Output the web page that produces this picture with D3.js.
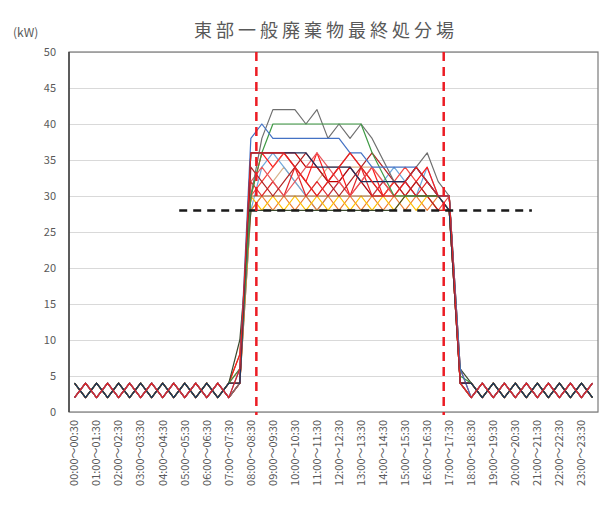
<!DOCTYPE html>
<html>
<head>
<meta charset="utf-8">
<script src="https://cdn.jsdelivr.net/npm/d3@7"></script>
<style>
  body { margin: 0; background: #fff; }
  text { font-family: "Noto Sans CJK JP", "Noto Sans", sans-serif; fill: #595959; }
</style>
</head>
<body>
<div id="chart"></div>
<script>
// half-hour slots
const slots = ["00:00～00:30","00:30～01:00","01:00～01:30","01:30～02:00","02:00～02:30","02:30～03:00",
    "03:00～03:30","03:30～04:00","04:00～04:30","04:30～05:00","05:00～05:30","05:30～06:00",
    "06:00～06:30","06:30～07:00","07:00～07:30","07:30～08:00","08:00～08:30","08:30～09:00",
    "09:00～09:30","09:30～10:00","10:00～10:30","10:30～11:00","11:00～11:30","11:30～12:00",
    "12:00～12:30","12:30～13:00","13:00～13:30","13:30～14:00","14:00～14:30","14:30～15:00",
    "15:00～15:30","15:30～16:00","16:00～16:30","16:30～17:00","17:00～17:30","17:30～18:00",
    "18:00～18:30","18:30～19:00","19:00～19:30","19:30～20:00","20:00～20:30","20:30～21:00",
    "21:00～21:30","21:30～22:00","22:00～22:30","22:30～23:00","23:00～23:30","23:30～00:00"];
const shownLabels = slots.filter(s => s.slice(3, 5) === "00");
const yTicks = [0, 5, 10, 15, 20, 25, 30, 35, 40, 45, 50];

// daily load profiles (kW)
const grayDay = [2,4,2,4,2,4,2,4,2,4,2,4,2,4, 2,4, 30,38,42,42,42,40,42,38,40,38,40,38,35,32,32,34,36,32, 30,4, 2,4,2,4,2,4,2,4,2,4,2,4];
const greenDay = [4,2,4,2,4,2,4,2,4,2,4,2,4,2, 4,6, 30,36,40,40,40,40,40,40,40,40,40,36,33,30,30,30,30,30, 28,5, 4,2,4,2,4,2,4,2,4,2,4,2];
const blueDay = [2,4,2,4,2,4,2,4,2,4,2,4,2,4, 2,6, 38,40,38,38,38,38,38,38,38,36,36,34,34,34,34,34,32,30, 30,6, 2,4,2,4,2,4,2,4,2,4,2,4];
const navyDay = [4,2,4,2,4,2,4,2,4,2,4,2,4,2, 4,4, 36,36,36,36,36,36,34,34,34,34,32,32,32,32,32,34,32,30, 28,4, 4,2,4,2,4,2,4,2,4,2,4,2];
const tanDay = [2,4,2,4,2,4,2,4,2,4,2,4,2,4, 2,4, 28,30,32,34,32,30,32,34,34,34,34,34,32,30,30,30,30,30, 28,4, 2,4,2,4,2,4,2,4,2,4,2,4];
const lightBlueDay = [2,4,2,4,2,4,2,4,2,4,2,4,2,4, 2,4, 28,34,36,34,32,30,28,30,32,34,32,30,32,34,32,30,34,30, 28,4, 2,4,2,4,2,4,2,4,2,4,2,4];
const orangeDay = [2,4,2,4,2,4,2,4,2,4,2,4,2,4, 2,4, 28,30,28,30,28,30,28,30,28,30,28,30,28,30,28,30,28,30, 28,4, 2,4,2,4,2,4,2,4,2,4,2,4];
const yellowDay = [4,2,4,2,4,2,4,2,4,2,4,2,4,2, 4,4, 30,28,30,28,30,28,30,28,30,28,30,28,30,28,30,28,30,28, 28,4, 4,2,4,2,4,2,4,2,4,2,4,2];
const brownDay = [4,2,4,2,4,2,4,2,4,2,4,2,4,2, 4,8, 30,30,30,30,30,30,30,30,30,30,30,30,30,30,30,30,30,30, 30,4, 4,2,4,2,4,2,4,2,4,2,4,2];
const oliveDay = [4,2,4,2,4,2,4,2,4,2,4,2,4,2, 4,10, 28,28,28,28,28,28,28,28,28,28,28,28,28,28,30,30,30,30, 30,6, 4,2,4,2,4,2,4,2,4,2,4,2];
const darkRedDay = [2,4,2,4,2,4,2,4,2,4,2,4,2,4, 2,4, 36,36,36,36,36,34,34,32,32,34,32,30,30,32,32,30,30,30, 30,4, 2,4,2,4,2,4,2,4,2,4,2,4];
const redDay = [4,2,4,2,4,2,4,2,4,2,4,2,4,2, 4,8, 30,36,34,36,34,32,36,32,34,30,32,34,30,32,30,32,34,30, 28,4, 4,2,4,2,4,2,4,2,4,2,4,2];
const red2Day = [2,4,2,4,2,4,2,4,2,4,2,4,2,4, 2,4, 32,30,32,30,34,30,32,30,32,30,34,30,32,30,32,30,32,30, 30,6, 2,4,2,4,2,4,2,4,2,4,2,4];
const red3Day = [4,2,4,2,4,2,4,2,4,2,4,2,4,2, 4,6, 30,32,34,36,34,32,30,32,34,36,34,32,30,32,34,32,30,28, 30,4, 4,2,4,2,4,2,4,2,4,2,4,2];
const pinkDay = [2,4,2,4,2,4,2,4,2,4,2,4,2,4, 2,4, 32,34,32,30,32,34,36,34,32,30,32,34,32,30,32,34,32,30, 28,4, 2,4,2,4,2,4,2,4,2,4,2,4];
const crimsonDay = [4,2,4,2,4,2,4,2,4,2,4,2,4,2, 4,4, 34,32,30,32,34,36,34,32,30,32,34,36,34,32,30,32,30,28, 28,4, 4,2,4,2,4,2,4,2,4,2,4,2];
const red4Day = [2,4,2,4,2,4,2,4,2,4,2,4,2,4, 2,6, 36,36,36,36,34,32,30,32,34,36,34,32,30,30,32,34,32,30, 30,4, 2,4,2,4,2,4,2,4,2,4,2,4];

const seriesList = [
    {values: tanDay, color: "#d9b48c"},
    {values: lightBlueDay, color: "#6fa8dc"},
    {values: orangeDay, color: "#ed7d31"},
    {values: yellowDay, color: "#ffc000"},
    {values: brownDay, color: "#a0622a"},
    {values: darkRedDay, color: "#c00000"},
    {values: redDay, color: "#ff1a1a"},
    {values: red2Day, color: "#e3262b"},
    {values: red3Day, color: "#f2453d"},
    {values: pinkDay, color: "#e8585d"},
    {values: crimsonDay, color: "#b22222"},
    {values: oliveDay, color: "#3b4a2e"},
    {values: grayDay, color: "#6f6f6f"},
    {values: greenDay, color: "#3f9a45"},
    {values: blueDay, color: "#4472c4"},
    {values: navyDay, color: "#1f2f5c"},
    {values: red4Day, color: "#e02424"}
];

const width = 605, height = 507;
const margin = {top: 52, right: 7, bottom: 95, left: 69};

const svg = d3.select("#chart").append("svg")
    .attr("width", width)
    .attr("height", height);

const x = d3.scaleBand()
    .domain(slots)
    .range([margin.left, width - margin.right]);
const y = d3.scaleLinear()
    .domain([0, 50])
    .range([height - margin.bottom, margin.top]);

//Gridlines and y labels
svg.append("g")
    .attr("transform", "translate(" + margin.left + ",0)")
    .call(d3.axisLeft(y).tickValues(yTicks).tickSize(-(width - margin.left - margin.right)).tickPadding(13))
    .call(g => g.select(".domain").remove())
    .call(g => g.selectAll(".tick line").attr("stroke", "#d9d9d9"))
    .call(g => g.selectAll(".tick text").style("font-size", "11px").attr("fill", "#595959"));

//Frame
svg.append("rect")
    .attr("x", margin.left)
    .attr("y", margin.top)
    .attr("width", width - margin.left - margin.right)
    .attr("height", height - margin.top - margin.bottom)
    .attr("fill", "none")
    .attr("stroke", "#7a7a7a")
    .attr("stroke-width", 1.2);
svg.append("line")
    .attr("x1", margin.left).attr("x2", margin.left)
    .attr("y1", margin.top).attr("y2", height - margin.bottom)
    .attr("stroke", "#404040")
    .attr("stroke-width", 1.5);

//X labels
svg.append("g")
    .attr("transform", "translate(0," + (height - margin.bottom) + ")")
    .call(d3.axisBottom(x).tickValues(shownLabels).tickSize(0))
    .call(g => g.select(".domain").remove())
    .call(g => g.selectAll(".tick text")
        .attr("transform", "rotate(-90)")
        .attr("text-anchor", "end")
        .attr("x", -8)
        .attr("y", 0)
        .attr("dy", "0.35em")
        .style("font-size", "11px")
        .attr("fill", "#595959"));

//Lines
const line = d3.line()
    .x((d, i) => x(slots[i]) + x.bandwidth() / 2)
    .y(d => y(d));

svg.append("g")
    .selectAll("path")
    .data(seriesList)
    .enter()
    .append("path")
    .attr("d", d => line(d.values))
    .attr("fill", "none")
    .attr("stroke", d => d.color)
    .attr("stroke-width", 1.2)
    .attr("stroke-linejoin", "round");

//Reference lines
svg.append("line")
    .attr("x1", x("05:00～05:30"))
    .attr("x2", x("21:00～21:30"))
    .attr("y1", y(28))
    .attr("y2", y(28))
    .attr("stroke", "#1a1a1a")
    .attr("stroke-width", 2.5)
    .attr("stroke-dasharray", "8,6");

["08:30～09:00", "17:00～17:30"].forEach(function (s) {
    svg.append("line")
        .attr("x1", x(s)).attr("x2", x(s))
        .attr("y1", margin.top)
        .attr("y2", height - margin.bottom + 3)
        .attr("stroke", "#ec1c24")
        .attr("stroke-width", 2.5)
        .attr("stroke-dasharray", "9,6");
});

//Title and unit
svg.append("text")
    .attr("x", 326)
    .attr("y", 37)
    .attr("text-anchor", "middle")
    .style("font-size", "18px")
    .style("letter-spacing", "4px")
    .text("東部一般廃棄物最終処分場");
svg.append("text")
    .attr("x", 13)
    .attr("y", 37)
    .style("font-size", "12px")
    .text("(kW)");
</script>
</body>
</html>
